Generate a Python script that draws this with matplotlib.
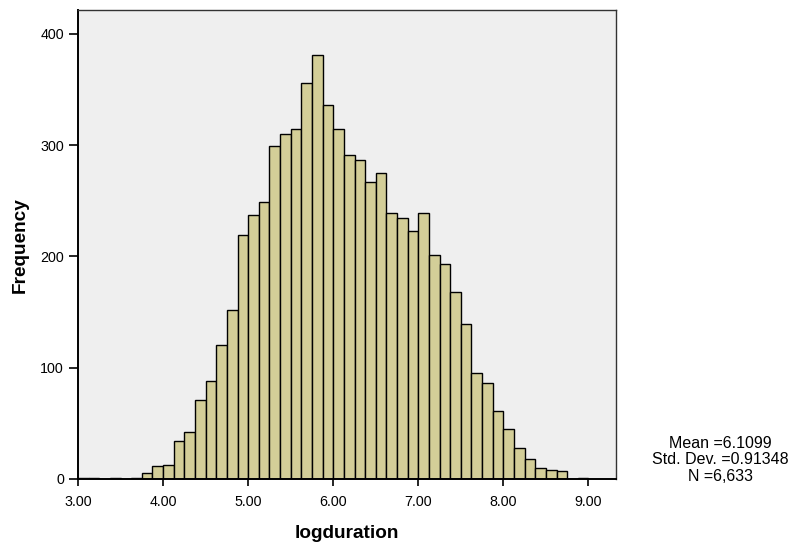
import matplotlib
matplotlib.use("Agg")
import matplotlib.pyplot as plt
import numpy as np

plt.rcParams['font.family'] = ['Liberation Sans', 'DejaVu Sans']

bin_start = 3.0
bin_width = 0.125
counts = [1, 1, 0, 1, 0, 1, 5, 12, 13, 34, 42, 71, 88, 120, 152, 219, 237, 249,
          299, 310, 315, 356, 381, 336, 315, 291, 287, 267, 275, 239, 235, 223,
          239, 201, 193, 168, 139, 95, 86, 61, 45, 28, 18, 10, 8, 7, 0, 1]
x_ticks = [3.0, 4.0, 5.0, 6.0, 7.0, 8.0, 9.0]
y_ticks = [0, 100, 200, 300, 400]
stats_lines = ["Mean =6.1099", "Std. Dev. =0.91348", "N =6,633"]

W, H = 791, 547
fig = plt.figure(figsize=(W / 100, H / 100), dpi=100)
ax = fig.add_axes([78 / W, 1 - 479 / H, (615.7 - 78) / W, (479 - 10) / H])
ax.set_facecolor('#EFEFEF')

lefts = bin_start + bin_width * np.arange(len(counts))
ax.bar(lefts, counts, width=bin_width, align='edge', color='#D3CE98',
       edgecolor='black', linewidth=1.0)

ax.set_xlim(3.0, 9.32)
ax.set_ylim(0, 421.5)
ax.set_xticks(x_ticks)
ax.set_xticklabels([f"{v:.2f}" for v in x_ticks])
ax.set_yticks(y_ticks)
ax.tick_params(axis='x', direction='out', length=5, width=1.2, labelsize=10.3,
               colors='black', pad=6.5)
ax.tick_params(axis='y', direction='out', length=6.5, width=1.2, labelsize=10.3,
               colors='black', pad=3.5)
for s in ax.spines.values():
    s.set_color('#333333')
    s.set_linewidth(1)
ax.spines['bottom'].set_linewidth(1.4)
ax.spines['bottom'].set_color('black')
ax.spines['left'].set_linewidth(1.4)
ax.spines['left'].set_color('black')

fig.text(346.9 / W, 1 - 533 / H, 'logduration', fontsize=13.7, fontweight='bold',
         ha='center', va='center')
fig.text(20 / W, 1 - 245 / H, 'Frequency', fontsize=13.7, fontweight='bold',
         ha='center', va='center', rotation=90)

fig.text(720 / W, 1 - 460 / H, "\n".join(stats_lines), ha='center', va='center',
         fontsize=11.5, linespacing=1.12)

fig.savefig('out.png', dpi=100)
